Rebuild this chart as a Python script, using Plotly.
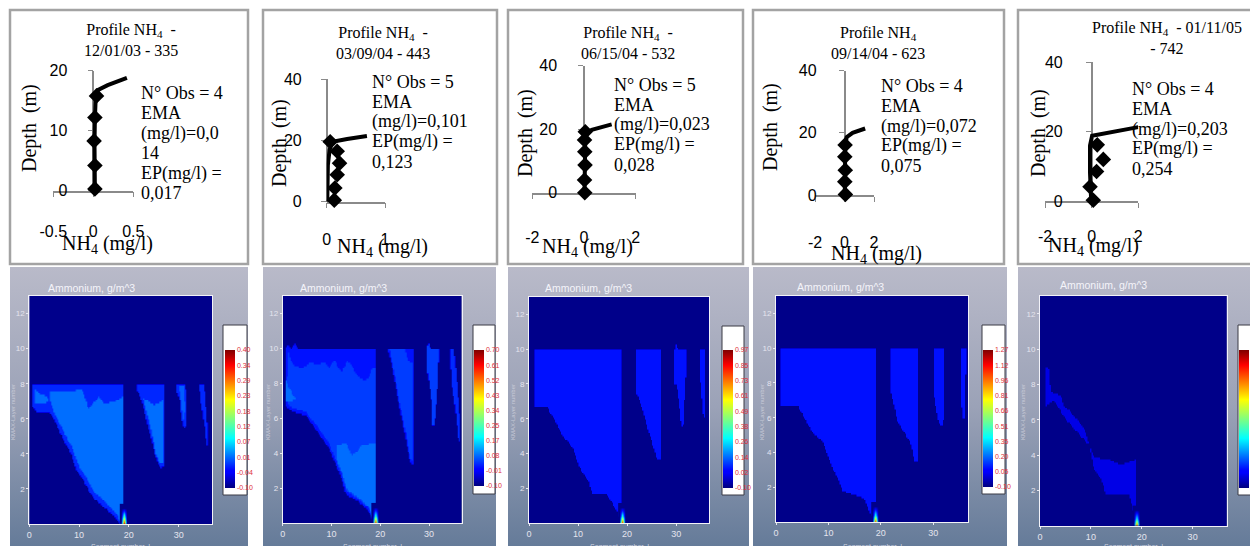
import base64
import numpy as np
import plotly.graph_objects as go

W, H = 1250, 546

# ---------------- depth profiles (top row) ----------------
profile_titles = [
    "Profile NH<sub>4</sub>  -<br>12/01/03 - 335",
    "Profile NH<sub>4</sub>  -<br>03/09/04 - 443",
    "Profile NH<sub>4</sub>  -<br>06/15/04 - 532",
    "Profile NH<sub>4</sub><br>09/14/04 - 623",
    "Profile NH<sub>4</sub>  - 01/11/05<br>- 742",
]
profile_stats = [
    ["N° Obs = 4", "EMA", "(mg/l)=0,0", "14", "EP(mg/l) =", "0,017"],
    ["N° Obs = 5", "EMA", "(mg/l)=0,101", "EP(mg/l) =", "0,123"],
    ["N° Obs = 5", "EMA", "(mg/l)=0,023", "EP(mg/l) =", "0,028"],
    ["N° Obs = 4", "EMA", "(mg/l)=0,072", "EP(mg/l) =", "0,075"],
    ["N° Obs = 4", "EMA", "(mg/l)=0,203", "EP(mg/l) =", "0,254"],
]
nh4_ranges = [(-0.5, 0.5), (0, 1), (-2, 2), (-2, 2), (-2, 2)]
nh4_ticks = [[-0.5, 0, 0.5], [0, 1], [-2, 0, 2], [-2, 0, 2], [-2, 0, 2]]
nh4_ticktext = [["-0.5", "0", "0.5"], ["0", "1"], ["-2", "0", "2"], ["-2", "0", "2"], ["-2", "0", "2"]]
depth_ranges = [(0, 20), (0, 40), (0, 40), (0, 40), (0, 40)]
depth_ticks = [[0, 10, 20], [0, 20, 40], [0, 20, 40], [0, 20, 40], [0, 20, 40]]

# observed concentrations (diamonds)
obs_depth = [
    [0.3, 4.2, 8.3, 12.2, 15.8],
    [0.5, 4.5, 8.8, 12.6, 16.5, 19.6],
    [0.0, 4.0, 8.7, 12.9, 16.6, 19.2],
    [0.2, 4.3, 8.0, 12.3, 16.1],
    [0.2, 4.1, 8.5, 12.0, 16.2],
]
obs_nh4 = [
    [0.02, 0.02, 0.01, 0.02, 0.04],
    [0.13, 0.14, 0.18, 0.22, 0.18, 0.06],
    [0.03, 0.02, 0.04, 0.03, 0.02, 0.05],
    [0.06, 0.02, 0.05, 0.02, 0.04],
    [0.07, -0.07, 0.21, 0.50, 0.24],
]
# simulated profile (thick line)
sim_depth = [
    [0, 4, 8, 12, 15.5, 16.8, 17.6, 18.8],
    [0, 6, 12, 17, 19.6, 20.5, 21.5],
    [0, 10, 18.5, 19.8, 21.5],
    [0, 8, 16, 18.6, 20, 21.4],
    [0, 8, 16, 18.8, 21.3],
]
sim_nh4 = [
    [0.02, 0.015, 0.015, 0.02, 0.03, 0.06, 0.18, 0.42],
    [0.01, 0.01, 0.02, 0.05, 0.10, 0.35, 0.69],
    [0.02, 0.03, 0.05, 0.30, 1.07],
    [0.02, 0.02, 0.05, 0.15, 0.55, 1.40],
    [-0.02, -0.07, -0.07, 0.02, 2.00],
]

# ---------------- model sections (bottom row) ----------------
field_range = [(-0.10, 0.40), (-0.10, 0.70), (-0.10, 0.97), (-0.10, 1.27), (-0.10, 1.60)]
field_background = [-0.095, -0.092, -0.090, -0.088, -0.085]
cbar_labels = [
    ["-0.10", "-0.04", "0.01", "0.07", "0.12", "0.18", "0.23", "0.29", "0.34", "0.40"],
    ["-0.10", "-0.01", "0.08", "0.17", "0.25", "0.34", "0.43", "0.52", "0.61", "0.70"],
    ["-0.10", "0.02", "0.14", "0.26", "0.38", "0.49", "0.61", "0.73", "0.85", "0.97"],
    ["-0.10", "0.05", "0.20", "0.35", "0.51", "0.66", "0.81", "0.96", "1.12", "1.27"],
    ["-0.10", "0.09", "0.28", "0.47", "0.66", "0.84", "1.03", "1.22", "1.41", "1.60"],
]
spike_peak = [0.36, 0.62, 0.86, 1.12, 1.40]
spike_segment = 19.0

# concentration regions: (value g/m^3, outline in segment / layer units)
regions = [
    [
        (-0.02, [(0.6, 8.0), (18.8, 8.0), (18.8, 0.0), (18.0, 0.0), (16.8, 0.5), (14.8, 1.0), (12.5, 1.6),
                 (10.8, 2.5), (9.4, 3.1), (8.2, 4.1), (7.2, 4.6), (6.2, 5.2), (5.0, 5.9), (4.0, 6.35),
                 (1.2, 6.45), (0.6, 6.7)]),
        (0.013, [(4.0, 7.6), (8.0, 7.6), (10.5, 7.7), (11.8, 6.6), (13.0, 7.0), (13.8, 7.3), (15.0, 6.9),
                 (17.0, 7.0), (18.8, 7.3), (18.8, 0.0), (18.5, 0.05), (17.1, 0.7), (15.1, 1.3), (12.8, 1.9),
                 (11.1, 2.8), (9.8, 3.4), (8.5, 4.4), (7.5, 4.9), (6.5, 5.5), (5.0, 6.3), (4.1, 7.0)]),
        (0.013, [(1.0, 7.75), (2.0, 7.45), (3.5, 7.3), (3.8, 7.0), (2.8, 6.9), (1.0, 6.95)]),
        (-0.02, [(21.6, 8.0), (27.0, 8.0), (27.0, 3.3), (26.2, 3.2), (25.2, 3.9), (24.0, 5.3), (23.0, 6.5),
                 (22.2, 7.3), (21.6, 7.6)]),
        (0.013, [(22.8, 7.2), (24.0, 7.0), (25.0, 6.8), (26.8, 7.1), (26.8, 3.5), (26.0, 3.5), (25.2, 4.2),
                 (24.2, 5.6), (23.3, 6.6)]),
        (-0.02, [(29.5, 8.0), (31.3, 8.0), (31.6, 6.8), (31.5, 5.6), (31.0, 5.5), (30.5, 6.0), (30.2, 7.0),
                 (29.5, 7.6)]),
        (0.005, [(30.0, 7.9), (31.0, 7.9), (31.2, 6.5), (30.9, 6.0), (30.5, 6.8)]),
        (-0.02, [(34.0, 8.0), (35.0, 8.0), (35.6, 6.0), (35.8, 4.6), (35.5, 4.5), (35.2, 5.5), (34.3, 7.0)]),
    ],
    [
        (0.012, [(0.5, 10.0), (1.0, 10.3), (1.5, 10.0), (2.5, 10.3), (3.0, 10.0), (18.9, 10.0), (18.9, 0.0),
                 (18.5, 0.05), (17.8, 0.6), (15.7, 1.2), (12.7, 1.7), (12.0, 2.5), (10.9, 3.3), (9.2, 4.4),
                 (7.0, 5.3), (4.5, 6.2), (2.0, 6.4), (0.5, 6.7)]),
        (0.044, [(1.0, 10.0), (1.5, 9.3), (2.5, 9.0), (4.0, 8.9), (5.5, 9.2), (7.0, 9.1), (8.5, 9.2),
                 (9.5, 8.9), (10.5, 9.4), (11.2, 9.0), (12.0, 8.6), (13.0, 9.3), (14.0, 9.1), (15.0, 8.5),
                 (16.5, 8.2), (17.5, 8.3), (18.3, 8.9), (18.9, 8.9), (18.9, 0.05), (18.4, 0.2), (17.7, 0.8),
                 (15.6, 1.35), (12.8, 1.9), (12.1, 2.7), (11.0, 3.5), (9.3, 4.6), (7.1, 5.5), (4.6, 6.4),
                 (2.1, 6.6), (1.0, 6.8), (0.8, 7.8), (1.0, 9.5)]),
        (0.08, [(11.0, 4.5), (13.0, 4.6), (14.0, 3.9), (15.0, 4.1), (16.0, 4.5), (18.9, 4.6), (18.9, 0.1),
                (18.3, 0.3), (17.6, 0.9), (15.5, 1.45), (12.9, 2.0), (12.2, 2.8), (11.1, 3.6)]),
        (0.08, [(0.6, 8.2), (1.2, 7.8), (2.5, 7.1), (1.5, 7.0), (0.6, 7.0)]),
        (0.012, [(21.6, 10.0), (26.7, 10.0), (26.7, 3.4), (26.0, 3.5), (25.0, 5.0), (23.6, 7.0), (22.3, 9.0),
                 (21.6, 9.8)]),
        (0.044, [(21.8, 10.0), (25.0, 10.0), (25.5, 9.3), (26.6, 9.2), (26.6, 3.6), (26.1, 3.7), (25.1, 5.2),
                 (23.8, 7.0), (22.5, 9.0)]),
        (0.044, [(29.4, 10.0), (29.8, 10.3), (30.3, 10.0), (32.0, 10.0), (31.7, 8.0), (31.3, 6.5), (31.0, 5.6),
                 (30.6, 5.6), (30.4, 7.0), (29.9, 8.2), (29.4, 9.0)]),
        (0.03, [(34.2, 10.0), (35.0, 10.0), (35.5, 8.5), (36.2, 6.0), (36.3, 4.7), (35.9, 4.8), (35.3, 6.5),
                (34.5, 8.0)]),
    ],
    [
        (0.05, [(0.9, 10.0), (18.8, 10.0), (18.8, 0.0), (18.5, 0.1), (17.8, 0.72), (16.8, 1.2), (15.4, 1.75),
                (12.8, 1.75), (12.0, 2.5), (10.7, 3.0), (9.7, 3.6), (9.0, 4.2), (8.0, 4.65), (7.0, 4.95),
                (5.9, 5.5), (5.3, 5.9), (4.3, 6.35), (3.6, 6.7), (0.9, 6.7)]),
        (0.05, [(21.8, 10.0), (26.8, 10.0), (26.8, 3.7), (26.2, 3.7), (25.9, 3.8), (24.9, 4.75), (24.2, 5.3),
                (23.5, 6.1), (22.8, 6.8), (21.8, 7.5)]),
        (0.05, [(29.6, 10.0), (29.9, 10.3), (30.2, 10.0), (32.0, 10.0), (31.9, 8.5), (31.5, 6.5), (31.5, 5.7),
                (31.0, 5.6), (30.5, 7.0), (30.0, 8.0), (29.6, 8.0)]),
        (0.05, [(34.7, 10.0), (35.8, 10.0), (35.8, 6.0), (35.4, 6.2), (34.9, 8.0), (34.7, 8.5)]),
    ],
    [
        (0.09, [(0.8, 10.0), (18.9, 10.0), (18.9, 0.0), (18.6, 0.1), (17.7, 0.6), (16.7, 1.4), (14.8, 1.6),
                (12.6, 1.8), (11.6, 2.6), (10.7, 3.1), (9.7, 3.9), (8.7, 4.7), (7.1, 5.1), (6.5, 5.4),
                (5.6, 5.9), (4.6, 6.4), (4.0, 6.75), (0.8, 6.75)]),
        (0.09, [(21.8, 10.0), (26.9, 10.0), (26.9, 3.5), (26.3, 3.5), (25.7, 4.5), (24.4, 5.2), (23.1, 5.8),
                (22.5, 6.7), (21.8, 7.5)]),
        (0.09, [(30.0, 10.0), (32.0, 10.0), (32.0, 6.0), (31.6, 5.6), (31.0, 5.7), (30.5, 6.5), (30.0, 7.5)]),
        (0.09, [(35.2, 10.0), (36.2, 10.0), (36.0, 6.0), (35.6, 6.0), (35.2, 7.0)]),
    ],
    [
        (0.05, [(1.0, 9.0), (1.6, 9.0), (2.0, 7.6), (3.0, 7.5), (4.0, 7.4), (4.6, 6.8), (5.5, 6.6), (6.3, 6.3),
                (7.3, 6.0), (8.0, 5.8), (8.9, 5.3), (9.9, 4.35), (10.5, 3.9), (13.2, 3.8), (15.8, 3.5),
                (17.1, 3.6), (18.8, 3.8), (18.8, 0.0), (18.5, 0.4), (17.5, 1.8), (12.9, 1.8), (11.9, 2.7),
                (10.5, 3.2), (9.6, 4.6), (7.3, 5.3), (4.6, 6.2), (3.8, 6.6), (2.6, 7.1), (1.0, 6.8)]),
    ],
]

JET = [[0.0, "#00007f"], [0.11, "#0000ff"], [0.125, "#0000ff"], [0.36, "#00ffff"],
       [0.5, "#7fff7f"], [0.64, "#ffff00"], [0.89, "#ff0000"], [1.0, "#7f0000"]]

SERIF = "Liberation Serif, Times New Roman, serif"
SANS = "Liberation Sans, Arial, sans-serif"
NARROW = "Liberation Sans Narrow, Arial Narrow, Liberation Sans, sans-serif"


def fx(p):
    return p / W


def fy(p):
    return 1 - p / H


def inside(px, py, poly):
    poly = np.asarray(poly, float)
    res = np.zeros(px.shape, bool)
    j = len(poly) - 1
    for i in range(len(poly)):
        xi, yi = poly[i]
        xj, yj = poly[j]
        cond = (yi > py) != (yj > py)
        with np.errstate(divide="ignore", invalid="ignore"):
            xint = (xj - xi) * (py - yi) / (yj - yi) + xi
        res ^= cond & (px < xint)
        j = i
    return res


fig = go.Figure()
shapes, annotations, images = [], [], []
layout_axes = {}

# ---------- top row frames & layout geometry ----------
top_frames = [(10, 10, 248, 264), (263, 10, 497, 264), (508, 10, 743, 264), (753, 10, 1004, 264), (1018, 10, 1252, 264)]
top_plot = [(53.3, 133.3, 70.7, 190.7), (326.7, 385, 79.3, 201.7), (532.3, 635.7, 65.7, 192.7),
            (815, 874, 70.7, 195), (1045, 1138.3, 62.3, 201)]
title_pos = [(131, 40), (383, 43), (628, 43), (878, 43), (1167, 38)]
stats_pos = [(139, 93), (370, 82), (612, 85), (879, 86), (1130, 89)]
stats_step = 20
ytitle_pos = [(29, 128), (280, 143), (525, 133), (770, 127), (1038, 133)]
xtitle_pos = [(107, 245), (382, 248), (587, 248), (876, 254), (1093, 247)]
xlab_center = [230, 238, 236, 241, 235]
ylab_right = [68, 302, 558, 817, 1063]

for i in range(5):
    n = i + 1
    sx = "" if n == 1 else str(n)
    x0, y0, x1, y1 = top_frames[i]
    shapes.append(dict(type="rect", xref="paper", yref="paper", x0=fx(x0), x1=fx(x1), y0=fy(y1), y1=fy(y0),
                       fillcolor="white", line=dict(color="#a3a3a3", width=2.5), layer="below"))
    px0, px1, pyt, pyb = top_plot[i]
    xr = nh4_ranges[i]
    axis_x = px0 + (0 - xr[0]) / (xr[1] - xr[0]) * (px1 - px0)
    layout_axes["xaxis" + sx] = dict(
        domain=[fx(px0), fx(px1)], range=list(xr), anchor="y" + sx, showgrid=False, zeroline=False,
        showline=True, linecolor="#8a8a8a", linewidth=1.5, ticks="outside", ticklen=5, tickcolor="#8a8a8a",
        tickvals=nh4_ticks[i], ticktext=nh4_ticktext[i], tickfont=dict(family=SANS, size=16, color="black"),
        ticklabelstandoff=int(xlab_center[i] - pyb - 5 - 14), layer="below traces", fixedrange=True)
    layout_axes["yaxis" + sx] = dict(
        domain=[fy(pyb), fy(pyt)], range=list(depth_ranges[i]), anchor="free", position=fx(axis_x),
        showgrid=False, zeroline=False, showline=True, linecolor="#8a8a8a", linewidth=1.5,
        ticks="outside", ticklen=5, tickcolor="#8a8a8a", tickvals=depth_ticks[i],
        tickfont=dict(family=SANS, size=16, color="black"),
        ticklabelstandoff=int(axis_x - 5 - 3 - ylab_right[i]), layer="below traces", fixedrange=True)

    fig.add_trace(go.Scatter(x=sim_nh4[i], y=sim_depth[i], mode="lines", xaxis="x" + sx, yaxis="y" + sx,
                             line=dict(color="black", width=4), cliponaxis=False, hoverinfo="skip"))
    fig.add_trace(go.Scatter(x=obs_nh4[i], y=obs_depth[i], mode="markers", xaxis="x" + sx, yaxis="y" + sx,
                             marker=dict(symbol="diamond", size=12, color="black"), cliponaxis=False,
                             hoverinfo="skip"))

    tx, ty = title_pos[i]
    annotations.append(dict(text=profile_titles[i], x=fx(tx), y=fy(ty), xref="paper", yref="paper",
                            xanchor="center", yanchor="middle", showarrow=False, align="center",
                            font=dict(family=SERIF, size=16, color="black")))
    sxp, syp = stats_pos[i]
    for k, line in enumerate(profile_stats[i]):
        annotations.append(dict(text=line, x=fx(sxp), y=fy(syp + k * stats_step), xref="paper", yref="paper",
                                xanchor="left", yanchor="middle", showarrow=False, align="left",
                                font=dict(family=SERIF, size=18, color="black")))
    yx, yy = ytitle_pos[i]
    annotations.append(dict(text="Depth  (m)", x=fx(yx), y=fy(yy), xref="paper", yref="paper",
                            xanchor="center", yanchor="middle", textangle=-90, showarrow=False,
                            font=dict(family=SERIF, size=20, color="black")))
    xx, xy = xtitle_pos[i]
    annotations.append(dict(text="NH<sub>4</sub> (mg/l)", x=fx(xx), y=fy(xy), xref="paper", yref="paper",
                            xanchor="center", yanchor="middle", showarrow=False,
                            font=dict(family=SERIF, size=20, color="black")))

# ---------- bottom row: model sections ----------
grad_svg = ('<svg xmlns="http://www.w3.org/2000/svg" width="10" height="100" viewBox="0 0 10 100" '
            'preserveAspectRatio="none"><defs><linearGradient id="g" x1="0" y1="0" x2="0" y2="1">'
            '<stop offset="0" stop-color="#b9bac9"/><stop offset="0.5" stop-color="#9ba2b7"/>'
            '<stop offset="1" stop-color="#657b99"/></linearGradient></defs>'
            '<rect width="10" height="100" fill="url(#g)"/></svg>')
grad_src = "data:image/svg+xml;base64," + base64.b64encode(grad_svg.encode()).decode()

bot_frames = [(10, 267, 248, 546), (263, 267, 496, 546), (508, 267, 749, 546), (753, 267, 1007, 546),
              (1018, 267, 1250, 546)]
bot_plot = [(29.3, 212, 296, 524), (282.7, 461.7, 296, 523), (529, 709, 297, 523), (776, 968.3, 296, 522),
            (1040, 1226.7, 296, 526)]
cbar_box = [(223, 325, 247, 495), (473, 325, 495, 494), (722, 326, 744, 495), (982, 325, 1005, 494),
            (1238, 325, 1254, 495)]
cbar_bar = [(225, 350, 488), (474, 350, 486), (723, 350, 488), (983, 350, 487), (1239, 350, 488)]
sec_title_pos = [(91, 288), (343, 288), (588, 288), (841, 287), (1103, 285)]
kmax_x = [13, 268, 513, 762, 1023]

gx = np.arange(0.125, 37.0, 0.25)
gy = np.arange(0.05, 13.0, 0.1)
GX, GY = np.meshgrid(gx, gy)

for i in range(5):
    n = i + 6
    sx = str(n)
    x0, y0, x1, y1 = bot_frames[i]
    images.append(dict(source=grad_src, xref="paper", yref="paper", x=fx(x0), y=fy(y0),
                       sizex=fx(x1) - fx(x0), sizey=fy(y0) - fy(y1), sizing="stretch",
                       xanchor="left", yanchor="top", layer="below"))
    bx0, by0, bx1, by1 = cbar_box[i]
    shapes.append(dict(type="rect", xref="paper", yref="paper", x0=fx(bx0), x1=fx(bx1), y0=fy(by1),
                       y1=fy(by0), fillcolor="white", line=dict(color="#3a3a44", width=1), layer="below"))

    px0, px1, pyt, pyb = bot_plot[i]
    layout_axes["xaxis" + sx] = dict(
        domain=[fx(px0), fx(px1)], range=[0, 36.7], anchor="y" + sx, showgrid=False, zeroline=False,
        showline=True, mirror=True, linecolor="#f2f2f8", linewidth=1, ticks="outside", ticklen=2,
        tickcolor="#e8e8f0", tickvals=[0, 10, 20, 30],
        tickfont=dict(family=NARROW, size=9, color="#e4e4ee"), fixedrange=True)
    layout_axes["yaxis" + sx] = dict(
        domain=[fy(pyb), fy(pyt)], range=[0, 13], anchor="x" + sx, showgrid=False, zeroline=False,
        showline=True, mirror=True, linecolor="#f2f2f8", linewidth=1, ticks="outside", ticklen=2,
        tickcolor="#e8e8f0", tickvals=[2, 4, 6, 8, 10, 12],
        tickfont=dict(family=NARROW, size=8, color="#e4e4ee"), fixedrange=True)

    zmin, zmax = field_range[i]
    Z = np.full(GX.shape, field_background[i])
    for value, poly in regions[i]:
        Z[inside(GX, GY, poly)] = value

    cb_left, cb_top, cb_bot = cbar_bar[i]
    fig.add_trace(go.Heatmap(
        x=gx, y=gy, z=Z, xaxis="x" + sx, yaxis="y" + sx, colorscale=JET, zmin=zmin, zmax=zmax,
        zsmooth="best", hoverinfo="skip",
        colorbar=dict(x=fx(cb_left), xanchor="left", y=fy((cb_top + cb_bot) / 2), yanchor="middle",
                      len=cb_bot - cb_top, lenmode="pixels", thickness=10, thicknessmode="pixels",
                      xpad=0, ypad=0, outlinewidth=0, ticks="", bgcolor="rgba(0,0,0,0)",
                      tickvals=list(np.linspace(zmin, zmax, 10)), ticktext=cbar_labels[i],
                      tickfont=dict(family=NARROW, size=7, color="#e0303a"))))

    bg = field_background[i]
    peak = spike_peak[i]
    fig.add_trace(go.Heatmap(
        x=[spike_segment - 0.55, spike_segment, spike_segment + 0.55], y=[0.0, 0.4, 0.9],
        z=[[bg, peak, bg], [bg, peak * 0.38, bg], [bg, bg, bg]],
        xaxis="x" + sx, yaxis="y" + sx, colorscale=JET, zmin=zmin, zmax=zmax, zsmooth="best",
        showscale=False, hoverinfo="skip"))

    stx, sty = sec_title_pos[i]
    annotations.append(dict(text="Ammonium, g/m^3", x=fx(stx), y=fy(sty), xref="paper", yref="paper",
                            xanchor="center", yanchor="middle", showarrow=False,
                            font=dict(family=NARROW, size=10.5, color="#f4f4fa")))
    annotations.append(dict(text="KMAX-Layer number", x=fx(kmax_x[i]), y=fy(412), xref="paper", yref="paper",
                            xanchor="center", yanchor="middle", textangle=-90, showarrow=False,
                            font=dict(family=NARROW, size=6, color="#c8cad8")))
    annotations.append(dict(text="Segment number, I", x=fx((px0 + px1) / 2), y=fy(541), xref="paper",
                            yref="paper", xanchor="center", yanchor="top", showarrow=False,
                            font=dict(family=NARROW, size=7, color="#d0d4e0")))

fig.update_layout(
    width=W, height=H, margin=dict(l=0, r=0, t=0, b=0, autoexpand=False),
    paper_bgcolor="white", plot_bgcolor="rgba(0,0,0,0)", showlegend=False,
    shapes=shapes, annotations=annotations, images=images, **layout_axes)

fig.write_html("out.html")
